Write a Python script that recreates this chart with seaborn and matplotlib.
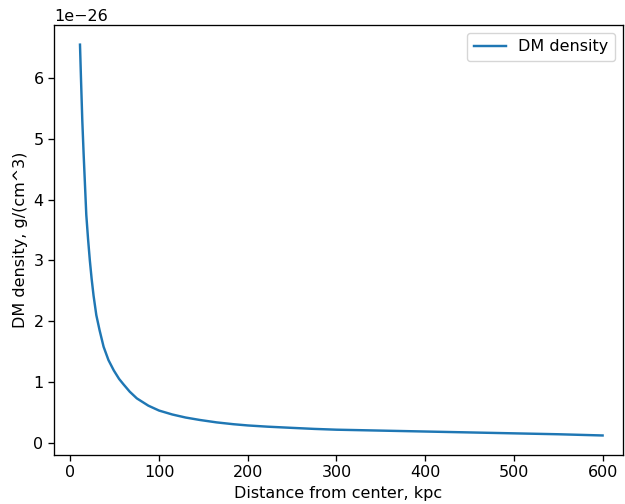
import numpy as np
import pandas as pd
import matplotlib
matplotlib.use('Agg')
import matplotlib.pyplot as plt
import seaborn as sns

# distance from center (kpc) and DM density (units of 1e-26 g/cm^3)
distance = [10.9, 12.0, 13.5, 15.0, 16.5, 18.0, 20.0, 22.0, 24.0, 26.2, 29.3, 33.0, 37.5,
            43.0, 49.0, 55.0, 60.0, 67.0, 75.0, 88.0, 100.0, 115.0, 130.0, 146.0, 165.0,
            184.0, 200.0, 222.0, 250.0, 275.0, 300.0, 350.0, 400.0, 450.0, 500.0, 550.0, 600.0]
density = [6.55, 6.0, 5.3, 4.75, 4.25, 3.75, 3.35, 3.0, 2.7, 2.42, 2.1, 1.85, 1.58,
           1.36, 1.19, 1.05, 0.96, 0.84, 0.73, 0.61, 0.53, 0.465, 0.415, 0.375, 0.335,
           0.305, 0.285, 0.265, 0.245, 0.228, 0.215, 0.20, 0.185, 0.17, 0.155, 0.14, 0.12]

df = pd.DataFrame({'distance': distance, 'density': np.array(density) * 1e-26})

plt.rcParams['font.size'] = 11.5
plt.rcParams['axes.linewidth'] = 0.95
plt.rcParams['xtick.major.width'] = 0.95
plt.rcParams['ytick.major.width'] = 0.95
plt.rcParams['xtick.major.size'] = 4
plt.rcParams['ytick.major.size'] = 4

fig = plt.figure(figsize=(6.25, 5.04), dpi=100)
ax = fig.add_axes([0.0864, 0.0972, 0.9104, 0.853])

sns.lineplot(data=df, x='distance', y='density', color='#1f77b4', linewidth=1.75,
             label='DM density', ax=ax)

ax.set_xlim(-18.4, 623)
ax.set_xticks([0, 100, 200, 300, 400, 500, 600])
ax.set_xlabel('Distance from center, kpc')
ax.set_ylabel('DM density, g/(cm^3)')
ax.legend(loc='upper right')

fig.savefig('out.png', dpi=100)
